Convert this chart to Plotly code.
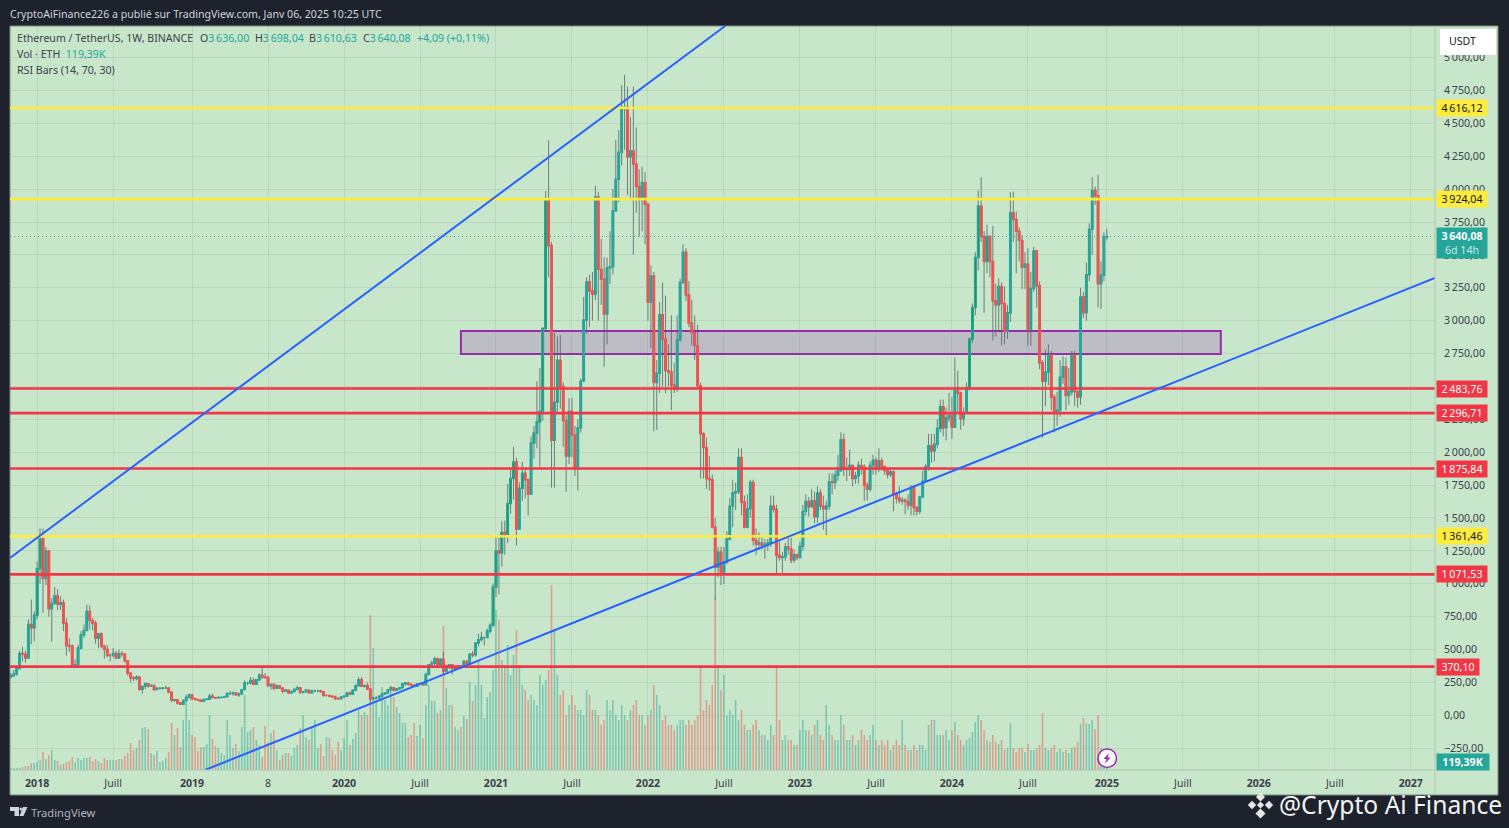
from datetime import date, timedelta
import plotly.graph_objects as go

START = date(2017, 10, 30)

# ---- weekly candles ----
closes_2017_18 = [300,315,355,470,465,435,690,665,760,1115,1340,1040,1250,810,850,910,845,855,700,530,525,380,385,510,610,645,790,720,700,585,620,525,500,455,455,470,435,470,465,415,320,285,280,290,198,220,240,225,226,195,205,205,208,208,175,115,118,93,84,112,135,155]
highs_2017_18 = [320,345,370,490,520,490,730,880,790,1170,1420,1420,1280,1250,890,975,960,905,880,740,585,540,425,535,640,690,840,835,740,720,625,630,535,535,470,510,490,500,485,470,415,325,300,305,300,225,250,245,235,235,215,210,215,225,210,180,125,120,100,120,157,165]
lows_2017_18 = [285,295,300,350,410,400,440,540,560,730,1000,780,990,750,560,840,800,800,640,455,480,365,360,380,500,590,640,650,645,545,510,510,430,440,410,440,425,430,445,400,300,250,260,265,185,165,200,210,215,185,195,195,195,200,170,100,100,82,82,83,110,130]
vols_2017_18 = [100,100,100,100,150,200,200,350,350,400,500,900,550,750,1000,500,450,250,300,400,450,650,400,600,500,600,600,650,450,550,450,350,600,500,500,500,500,550,550,700,850,1350,1000,1100,1500,2100,2150,2050,850,750,950,400,450,600,900,2350,1750,2100,1150,2500,3500,2500]

closes_2019 = [125,120,115,107,120,122,145,134,133,135,136,141,165,165,170,155,162,195,245,245,265,235,270,305,290,288,225,235,205,225,205,185,190,170,180,198,210,175,178,190,170,185,185,185,180,150,150,145,140,128,125,140]
highs_2019 = [160,135,125,120,125,128,165,165,140,145,142,148,175,185,180,175,172,200,265,255,290,285,275,320,365,320,300,240,240,235,230,215,200,195,190,200,225,215,185,200,195,195,195,195,195,185,160,155,150,150,135,145]
lows_2019 = [118,115,110,100,100,118,118,130,125,130,130,133,138,155,150,150,140,155,195,230,235,230,230,260,275,275,215,195,190,200,200,165,180,165,165,175,190,160,165,175,165,165,180,175,170,145,145,140,135,115,120,125]
vols_2019 = [1750,1650,950,1150,1150,1300,2750,1550,1200,1100,850,750,2500,1750,1100,1300,950,2150,3750,1900,2000,2150,1500,1250,650,2200,1350,1850,2000,1000,500,750,850,850,700,1100,1250,2100,2750,1650,1500,2150,2500,1100,1300,700,1650,1600,1000,750,1400,1000]

closes_2020 = [145,170,160,190,225,270,220,225,200,125,130,130,145,160,170,195,210,190,200,210,240,245,235,228,220,240,240,232,310,385,395,430,385,425,335,370,385,355,355,370,368,410,390,465,460,550,575,590,590,640,685,975]
highs_2020 = [150,175,180,195,235,290,290,235,250,205,140,145,150,170,175,200,225,215,205,215,245,255,250,240,235,245,250,245,325,390,415,445,440,435,480,385,390,390,365,380,380,420,420,470,490,555,620,635,600,660,700,1000]
lows_2020 = [130,140,155,160,185,220,215,210,195,90,115,120,125,140,155,160,185,180,185,195,200,225,225,215,215,215,235,225,230,310,365,375,375,375,310,330,350,310,340,345,350,360,370,390,440,445,525,560,530,590,620,670]
vols_2020 = [1600,2500,1250,1550,1850,3000,2750,2900,2750,7750,6100,3500,2650,4150,3500,3250,4000,3650,3150,2850,2350,2350,1650,1750,2350,1700,2250,1600,3250,4250,3450,3450,2850,3000,7200,4100,3250,3250,2150,2000,2150,2700,2550,4400,3450,4250,5500,4250,2600,3650,3900,5000]

closes_2021 = [1250,1235,1390,1375,1610,1800,1925,1415,1725,1840,1790,1680,2070,2145,2230,2310,2940,3925,3570,2090,2380,2700,2500,2240,1970,2310,2130,1885,2185,2540,3005,3295,3225,3200,3940,3390,3315,3050,3400,3410,3835,4075,4280,4610,4620,4245,4290,4190,4020,3920,4050,3885]
highs_2021 = [1350,1350,1475,1480,1760,1875,2040,1960,1770,1925,1870,1800,2120,2200,2540,2640,2950,3985,4370,3600,2910,2880,2890,2530,2280,2410,2410,2200,2250,2560,3180,3330,3350,3370,4025,3980,3620,3480,3480,3680,4000,4375,4450,4790,4868,4780,4550,4780,4470,4150,4170,4130]
lows_2021 = [900,920,1130,1220,1310,1530,1640,1290,1430,1630,1650,1520,1680,1950,2030,1890,2240,2920,3330,1730,1730,2300,2330,2040,1700,1910,1960,1820,1710,2150,2540,2900,2950,3000,3155,3000,3120,2650,2820,3280,3350,3830,3900,4180,4300,3955,3930,3500,3820,3640,3680,3580]
vols_2021 = [8000,7500,5500,5250,6250,4750,5750,7000,5250,4250,4000,3500,3750,3500,3250,4750,4250,4500,5000,9250,7000,4750,3750,4000,2750,3250,3750,3250,3000,3000,2750,4000,3750,3000,3000,2750,2250,2500,3500,3000,3500,2750,2500,3250,2750,2500,3000,3250,3500,2750,2750,2250]

closes_2022 = [3140,3340,2530,2600,3045,2860,2620,2610,2510,2480,2855,3290,3520,3195,2980,2910,2810,2505,2140,2035,1800,1790,1430,1125,1240,1075,1165,1340,1590,1690,1700,1960,1620,1430,1570,1770,1330,1300,1310,1290,1300,1310,1590,1565,1215,1200,1205,1280,1265,1180,1220,1200]
highs_2022 = [3890,3420,3370,2700,3140,3290,3190,2820,3040,2680,3040,3320,3580,3550,3300,3160,3040,2970,2530,2150,2110,1970,1830,1500,1280,1280,1280,1400,1650,1790,1770,2030,2030,1670,1680,1790,1790,1420,1390,1370,1340,1340,1670,1670,1600,1320,1240,1310,1350,1350,1260,1230]
lows_2022 = [3000,2790,2160,2170,2450,2500,2450,2500,2320,2450,2460,2840,3280,3150,2950,2810,2700,2480,1800,1800,1720,1710,1420,880,1050,990,1000,1150,1330,1430,1560,1680,1520,1420,1420,1500,1290,1220,1260,1260,1190,1250,1280,1540,1070,1175,1075,1175,1220,1155,1160,1180]
vols_2022 = [2750,3000,4250,3750,3250,2500,2750,2250,2250,2000,2250,2500,2500,2250,2500,2250,2500,2750,5250,3000,3500,3250,4250,8650,5250,4000,4750,2750,3000,2750,3500,2500,3000,2250,2000,2000,2250,2500,2000,1750,1750,1500,2250,1750,5250,2500,1500,1750,1500,1500,1250,1250]

closes_2023 = [1285,1550,1625,1585,1630,1510,1690,1590,1570,1590,1775,1770,1825,1860,2095,1870,1870,1900,1800,1820,1900,1890,1750,1720,1900,1940,1870,1935,1890,1860,1830,1850,1680,1650,1630,1635,1625,1595,1730,1580,1550,1660,1780,1890,2050,2010,2060,2180,2345,2185,2260,2280]
highs_2023 = [1320,1600,1680,1660,1720,1700,1740,1720,1670,1630,1840,1840,1860,1980,2150,2140,1960,2020,1860,1850,1930,1950,1910,1770,1930,1980,1960,2030,1960,1900,1880,1870,1860,1700,1740,1660,1650,1680,1750,1750,1590,1670,1860,1910,2140,2140,2140,2250,2400,2400,2340,2450]
lows_2023 = [1190,1250,1520,1510,1600,1460,1460,1560,1410,1370,1560,1680,1720,1780,1850,1820,1780,1820,1740,1760,1760,1830,1630,1630,1700,1830,1830,1850,1860,1830,1800,1810,1550,1610,1610,1600,1530,1560,1520,1520,1520,1530,1650,1770,1860,1920,1930,2030,2150,2120,2090,2230]
vols_2023 = [2000,2500,2000,2000,1750,2250,2500,1750,1500,3250,2250,1750,1500,1500,2750,2250,1500,1500,1750,1250,1500,2000,1750,1500,1750,2250,1500,1250,1500,1250,1500,1000,1250,1500,1250,2500,1250,1000,1000,1250,1000,1250,1250,1000,2250,2500,2500,1750,1750,1750,2000,1500]

closes_2024_25 = [2190,2470,2450,2255,2300,2490,2860,3100,3480,3870,3640,3450,3640,3450,3150,3120,3260,3130,2920,3060,3820,3770,3680,3610,3405,3430,2930,3245,3530,3265,2680,2540,2610,2740,2420,2300,2320,2570,2650,2430,2460,2740,2460,2420,3180,3060,3350,3695,3990,3950,3280,3345,3636,3640.08]
highs_2024_25 = [2420,2720,2620,2460,2340,2530,2870,3130,3520,3990,4090,3680,3730,3650,3720,3280,3320,3290,3260,3120,3975,3980,3830,3710,3650,3520,3550,3370,3560,3540,3300,2700,2780,2820,2770,2440,2460,2700,2730,2720,2640,2770,2770,2470,3250,3220,3440,3740,4090,4020,4107,3450,3670,3698.04]
lows_2024_25 = [2100,2200,2300,2170,2200,2330,2470,2830,3040,3380,3600,3060,3360,3330,2850,2880,2920,2810,2820,2860,2990,3600,3360,3450,3240,3240,2810,2810,3220,3100,2630,2110,2350,2510,2320,2150,2200,2270,2520,2320,2360,2430,2350,2340,2360,3020,3000,3300,3500,3880,3100,3090,3300,3610.63]
vols_2024_25 = [2000,2400,1750,1500,1250,1500,1600,1900,2400,2750,2500,2000,1500,1400,1750,1400,1300,1500,1000,1100,2350,1100,900,1100,1100,900,1300,1000,1000,1100,1250,2850,1100,1000,1100,1250,900,1050,900,1000,850,1100,1150,1400,2300,2600,2350,2300,2500,2050,2750,1100,1000,119.39]

first_open = 290

closes = closes_2017_18 + closes_2019 + closes_2020 + closes_2021 + closes_2022 + closes_2023 + closes_2024_25
highs = highs_2017_18 + highs_2019 + highs_2020 + highs_2021 + highs_2022 + highs_2023 + highs_2024_25
lows = lows_2017_18 + lows_2019 + lows_2020 + lows_2021 + lows_2022 + lows_2023 + lows_2024_25
volumes = vols_2017_18 + vols_2019 + vols_2020 + vols_2021 + vols_2022 + vols_2023 + vols_2024_25
assert len(closes) == len(highs) == len(lows) == len(volumes) == 376, (len(closes), len(highs), len(lows), len(volumes))
opens = [first_open] + closes[:-1]
dates = [(START + timedelta(days=7 * k)).isoformat() for k in range(len(closes))]

# bars the RSI Bars script paints differently (overbought)
rsi_over_weeks = [dates[k] for k in (7, 9, 10, 11, 165, 166, 167, 168, 169, 170, 171, 172, 175, 179, 181, 182, 183, 184, 318, 319, 328, 329, 330, 331, 332, 334)]

# ---- drawn objects ----
level_prices = [4616.12, 3924.04, 2483.76, 2296.71, 1875.84, 1361.46, 1071.53, 370.10]
level_labels = ["4\u2009616,12", "3\u2009924,04", "2\u2009483,76", "2\u2009296,71", "1\u2009875,84", "1\u2009361,46", "1\u2009071,53", "370,10"]
level_colors = ["#ffeb3b", "#ffeb3b", "#f23645", "#f23645", "#f23645", "#ffeb3b", "#f23645", "#f23645"]
level_text = ["#131722", "#131722", "#ffffff", "#ffffff", "#ffffff", "#131722", "#ffffff", "#ffffff"]
level_tag_widths = [48, 48, 48, 48, 48, 48, 48, 40]
trend_a_dates, trend_a_prices = ["2017-10-28", "2022-07-07"], [1196, 5240]
trend_b_dates, trend_b_prices = ["2019-02-07", "2027-03-03"], [-416, 3324]
zone_dates, zone_prices = ["2020-10-12", "2025-10-06"], [2746, 2921]
last_price = 3640.08

y_ticks = [5000, 4750, 4500, 4250, 4000, 3750, 3500, 3250, 3000, 2750, 2500, 2250, 2000, 1750, 1500, 1250, 1000, 750, 500, 250, 0, -250]
y_tick_labels = ["5\u2009000,00", "4\u2009750,00", "4\u2009500,00", "4\u2009250,00", "4\u2009000,00", "3\u2009750,00", "3\u2009500,00", "3\u2009250,00", "3\u2009000,00", "2\u2009750,00", "2\u2009500,00", "2\u2009250,00", "2\u2009000,00", "1\u2009750,00", "1\u2009500,00", "1\u2009250,00", "1\u2009000,00", "750,00", "500,00", "250,00", "0,00", "\u2212250,00"]
x_ticks = ["2018-01-01", "2018-07-02", "2019-01-07", "2019-07-08", "2020-01-06", "2020-07-06", "2021-01-04", "2021-07-05", "2022-01-03", "2022-07-04", "2023-01-02", "2023-07-03", "2024-01-01", "2024-07-01", "2025-01-06", "2025-07-07", "2026-01-05", "2026-07-06", "2027-01-04"]
x_tick_labels = ["<b>2018</b>", "Juill", "<b>2019</b>", "8", "<b>2020</b>", "Juill", "<b>2021</b>", "Juill", "<b>2022</b>", "Juill", "<b>2023</b>", "Juill", "<b>2024</b>", "Juill", "<b>2025</b>", "Juill", "<b>2026</b>", "Juill", "<b>2027</b>"]
x_range = ["2017-10-28", "2027-03-03"]
y_range = [-416, 5240]
vol_range = [0, 37200]

TEAL, RED, GREEN_BG, DARK = "#26a69a", "#ef5350", "#c8e6c9", "#1e222d"
FONT = "Noto Sans"
TXT = "#3c424e"
FS = 10.6


def X(px):
    return (px - 10) / 1425


def Y(py):
    return (770 - py) / 744


fig = go.Figure()

# volume (base axis, so it stays under the candles)
fig.add_trace(go.Bar(
    x=dates, y=volumes, yaxis="y", width=3.6 * 86400000, hoverinfo="skip", showlegend=False,
    marker=dict(color=["rgba(38,166,154,0.5)" if c >= o else "rgba(239,83,80,0.5)" for o, c in zip(opens, closes)], line=dict(width=0)),
))

# wicks
fig.add_trace(go.Candlestick(
    x=dates, open=opens, high=highs, low=lows, close=closes, yaxis="y2", hoverinfo="skip", showlegend=False, whiskerwidth=0,
    increasing=dict(line=dict(color="rgba(75,85,95,0.72)", width=1), fillcolor="rgba(0,0,0,0)"),
    decreasing=dict(line=dict(color="rgba(75,85,95,0.72)", width=1), fillcolor="rgba(0,0,0,0)"),
))

# bodies
body_hi = [max(o, c) for o, c in zip(opens, closes)]
body_lo = [min(o, c) for o, c in zip(opens, closes)]
fig.add_trace(go.Candlestick(
    x=dates, open=opens, high=body_hi, low=body_lo, close=closes, yaxis="y2", hoverinfo="skip", showlegend=False,
    increasing=dict(line=dict(color=TEAL, width=1.4), fillcolor=TEAL),
    decreasing=dict(line=dict(color=RED, width=1.4), fillcolor=RED),
))

# overbought centres (RSI Bars)
flag = set(rsi_over_weeks)
mask = lambda seq: [v if d in flag else None for d, v in zip(dates, seq)]
fig.add_trace(go.Candlestick(
    x=dates, open=mask(opens), high=mask(body_hi), low=mask(body_lo), close=mask(closes), yaxis="y2", hoverinfo="skip", showlegend=False,
    increasing=dict(line=dict(color=TEAL, width=1.1), fillcolor="#008000"),
    decreasing=dict(line=dict(color=RED, width=1.1), fillcolor="#8f6a30"),
))

# last price, levels, trend lines
fig.add_trace(go.Scatter(x=x_range, y=[last_price, last_price], yaxis="y2", mode="lines", hoverinfo="skip", showlegend=False,
                         line=dict(color=TEAL, width=1, dash="1px,3px")))
for price, col in zip(level_prices, level_colors):
    fig.add_trace(go.Scatter(x=x_range, y=[price, price], yaxis="y2", mode="lines", hoverinfo="skip", showlegend=False,
                             line=dict(color=col, width=2.6)))
for dd, pp in ((trend_a_dates, trend_a_prices), (trend_b_dates, trend_b_prices)):
    fig.add_trace(go.Scatter(x=dd, y=pp, yaxis="y2", mode="lines", hoverinfo="skip", showlegend=False,
                             line=dict(color="#2962ff", width=2)))


def diamond(cx, cy, r):
    return f"M{X(cx - r)},{Y(cy)} L{X(cx)},{Y(cy - r)} L{X(cx + r)},{Y(cy)} L{X(cx)},{Y(cy + r)} Z"


def poly(pts):
    return "M" + " L".join(f"{X(a)},{Y(b)}" for a, b in pts) + " Z"


shapes = [
    dict(type="rect", xref="paper", yref="paper", x0=X(10), x1=X(1498), y0=Y(795), y1=Y(26), layer="below",
         fillcolor=GREEN_BG, line=dict(color="#7c8a84", width=1)),
    dict(type="line", xref="paper", yref="paper", x0=X(1435), x1=X(1435), y0=Y(795), y1=Y(26), layer="above",
         line=dict(color="#aec6b0", width=1)),
    dict(type="line", xref="paper", yref="paper", x0=X(10), x1=X(1435), y0=Y(770), y1=Y(770), layer="above",
         line=dict(color="#aec6b0", width=1)),
    dict(type="rect", xref="x", yref="y2", x0=zone_dates[0], x1=zone_dates[1], y0=zone_prices[0], y1=zone_prices[1],
         layer="below", fillcolor="#bdbec4", line=dict(color="#9c27b0", width=2)),
    # lightning badge
    dict(type="circle", xref="paper", yref="paper", x0=X(1098), x1=X(1116.5), y0=Y(767.5), y1=Y(749),
         fillcolor="#ffffff", line=dict(color="#9c27b0", width=1.5)),
    dict(type="path", xref="paper", yref="paper", line=dict(width=0), fillcolor="#9c27b0",
         path=poly([(1109, 753), (1103.5, 759), (1106.5, 759), (1105, 763.5), (1110.5, 757.5), (1107.5, 757.5)])),
    # TradingView mark
    dict(type="path", xref="paper", yref="paper", line=dict(width=0), fillcolor="#d1d4dc",
         path=poly([(10, 807), (19, 807), (19, 816), (14.5, 816), (14.5, 811), (10, 811)])),
    dict(type="circle", xref="paper", yref="paper", x0=X(19.5), x1=X(22.5), y0=Y(810.5), y1=Y(807.5), fillcolor="#d1d4dc", line=dict(width=0)),
    dict(type="path", xref="paper", yref="paper", line=dict(width=0), fillcolor="#d1d4dc",
         path=poly([(23, 807), (27.5, 807), (23.5, 816), (19.5, 816)])),
]
# Binance mark
for cx, cy, r in ((1260.5, 805, 3.6), (1260.5, 797, 4.6), (1260.5, 813.5, 5), (1252, 805, 4.2), (1269, 805, 4.2)):
    shapes.append(dict(type="path", xref="paper", yref="paper", line=dict(width=0), fillcolor="#e6e6e6", path=diamond(cx, cy, r)))


def note(text, x, y, size=FS, color=TXT, anchor="left", **kw):
    return dict(text=text, xref="paper", yref="paper", x=X(x), y=Y(y), xanchor=anchor, yanchor="middle", showarrow=False,
                font=dict(family=FONT, size=size, color=color), **kw)


annotations = [
    note("CryptoAiFinance226 a publié sur TradingView.com, Janv 06, 2025 10:25 UTC", 8, 14, FS, "#d1d4dc"),
    note("Ethereum / TetherUS, 1W, BINANCE", 15, 38),
    note(f"O<span style='color:{TEAL}'>3\u2009636,00</span>", 198, 38),
    note(f"H<span style='color:{TEAL}'>3\u2009698,04</span>", 253, 38),
    note(f"B<span style='color:{TEAL}'>3\u2009610,63</span>", 307, 38),
    note(f"C<span style='color:{TEAL}'>3\u2009640,08</span>", 361, 38),
    note("+4,09 (+0,11%)", 415, 38, FS, TEAL),
    note(f"Vol · ETH  <span style='color:{TEAL}'>119,39K</span>", 15, 54),
    note("RSI Bars (14, 70, 30)", 15, 70),
    note("USDT", 1447, 41, FS, "#131722"),
    note("TradingView", 29, 812, 11.2, "#b2b5be"),
    note("@Crypto Ai Finance", 1277, 804, 24.6, "#f4f4f4"),
    dict(text=f"<b>3\u2009640,08</b><br><span style='color:#c8e6e2'>6d 14h</span>", xref="paper", yref="paper", x=X(1436), y=Y(243),
         xanchor="left", yanchor="middle", showarrow=False, bgcolor=TEAL, width=48, height=28, align="center",
         font=dict(family=FONT, size=FS, color="#ffffff")),
    dict(text="<b>119,39K</b>", xref="paper", yref="paper", x=X(1436), y=Y(762), xanchor="left", yanchor="middle", showarrow=False,
         bgcolor=TEAL, width=50, height=14, align="center", font=dict(family=FONT, size=FS, color="#ffffff")),
]
for price, label, col, tc, tw in zip(level_prices, level_labels, level_colors, level_text, level_tag_widths):
    annotations.append(dict(text=label, xref="paper", yref="y2", x=X(1436), y=price, xanchor="left", yanchor="middle", showarrow=False,
                            bgcolor=col, width=tw, height=14, align="center", font=dict(family=FONT, size=FS, color=tc)))

# white USDT plate (its lower edge bites into the 5 000,00 label, as in the source)
shapes.append(dict(type="rect", xref="paper", yref="paper", x0=X(1440), x1=X(1496), y0=Y(55), y1=Y(29), layer="above",
                   fillcolor="#ffffff", line=dict(width=0)))

GRID = "rgba(90,120,100,0.12)"
fig.update_layout(
    width=1509, height=828, autosize=False,
    margin=dict(l=10, r=74, t=26, b=58, pad=0),
    paper_bgcolor=DARK, plot_bgcolor="rgba(0,0,0,0)",
    font=dict(family=FONT, size=FS, color=TXT),
    barmode="overlay", dragmode=False, showlegend=False,
    xaxis=dict(type="date", range=x_range, tickmode="array", tickvals=x_ticks, ticktext=x_tick_labels,
               showgrid=True, gridcolor=GRID, gridwidth=1, zeroline=False, showline=False, ticks="",
               rangeslider=dict(visible=False), tickfont=dict(family=FONT, size=FS, color=TXT), tickangle=0, ticklabelstandoff=5),
    yaxis=dict(range=vol_range, visible=False, fixedrange=True),
    yaxis2=dict(overlaying="y", side="right", range=y_range, tickmode="array", tickvals=y_ticks, ticktext=y_tick_labels,
                showgrid=True, gridcolor=GRID, gridwidth=1, zeroline=False, showline=False, ticks="",
                ticklabelstandoff=8, tickfont=dict(family=FONT, size=FS, color=TXT), fixedrange=True),
    shapes=shapes, annotations=annotations,
)

fig.write_html("out.html", config=dict(displayModeBar=False),
               post_script="document.body.style.margin='0';document.body.style.background='#1e222d';document.documentElement.style.overflow='hidden';")
